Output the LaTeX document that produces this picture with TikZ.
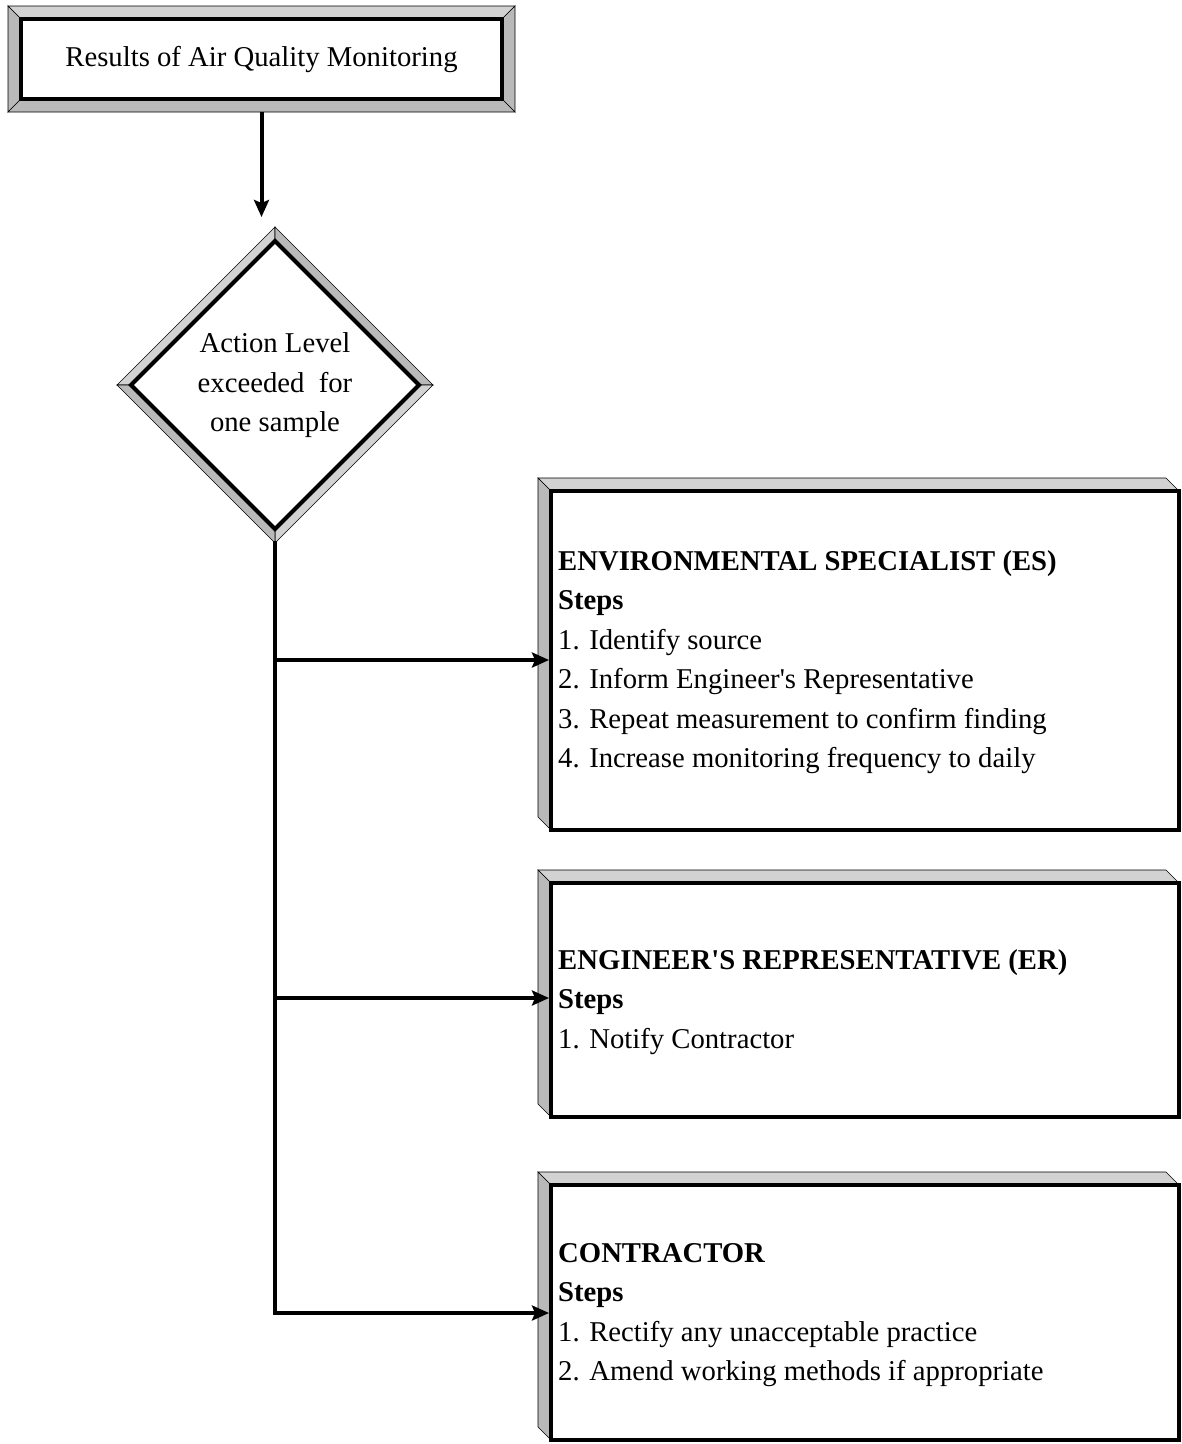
\documentclass[tikz,border=0pt]{standalone}
\usepackage{fontspec}
\setmainfont{Liberation Serif}[Ligatures=TeXOff]
\usetikzlibrary{shapes.geometric,arrows.meta,calc}
\begin{document}
\begin{tikzpicture}[x=1pt,y=-1pt,
  txt/.style={font=\fontsize{28.7}{39.5}\selectfont, inner sep=0pt, anchor=base west},
  ctxt/.style={txt, anchor=base},
  btxt/.style={txt, font=\fontsize{28.7}{39.5}\selectfont\bfseries},
  bevA/.style={fill=gray!35, draw=black, line width=0.6pt},
  bevB/.style={fill=gray!55, draw=black, line width=0.6pt},
  boxin/.style={draw, line width=4pt, fill=white, inner sep=0pt, outer sep=0pt, anchor=north west},
  conn/.style={line width=4pt, -{Stealth[length=17pt,width=15pt,inset=3pt]}},
  link/.style={line width=4pt}]
\useasboundingbox (0,0) rectangle (1182,1444);

% ---------- top box ----------
\filldraw[bevA] (8,6) -- (515,6) -- (502,19) -- (21,19) -- cycle;
\filldraw[bevB] (8,6) -- (21,19) -- (21,99) -- (8,112) -- cycle;
\filldraw[bevB] (515,6) -- (515,112) -- (502,99) -- (502,19) -- cycle;
\filldraw[bevB] (8,112) -- (515,112) -- (502,99) -- (21,99) -- cycle;
\node[boxin, minimum width=481pt, minimum height=80pt] (res) at (21,19) {};
\node[ctxt] (restxt) at (261.5,66) {Results of Air Quality Monitoring};

% ---------- diamond ----------
\filldraw[bevA] (117,385) -- (275,227) -- (275,241) -- (131,385) -- cycle;
\filldraw[bevB] (275,227) -- (433,385) -- (419,385) -- (275,241) -- cycle;
\filldraw[bevA] (433,385) -- (275,543) -- (275,529) -- (419,385) -- cycle;
\filldraw[bevB] (275,543) -- (117,385) -- (131,385) -- (275,529) -- cycle;
\node[diamond, aspect=1, draw, line width=4pt, fill=white, inner sep=0pt, outer sep=0pt,
      minimum width=288pt, minimum height=288pt] (dia) at (275,385) {};
\node[ctxt] (dia1) at (275,352) {Action Level};
\node[ctxt] (dia2) at (275,392) {exceeded\ \ for};
\node[ctxt] (dia3) at (275,431) {one sample};

% ---------- box ES ----------
\filldraw[bevA] (538,478) -- (1166,478) -- (1179,491) -- (551,491) -- cycle;
\filldraw[bevB] (538,478) -- (551,491) -- (551,830) -- (538,817) -- cycle;
\node[boxin, minimum width=628pt, minimum height=339pt] (es) at (551,491) {};
\node[btxt] (es1) at (558,570) {ENVIRONMENTAL SPECIALIST (ES)};
\node[btxt] (es2) at (558,609.5) {Steps};
\node[txt] (es3) at (558,649) {1. Identify source};
\node[txt] (es4) at (558,688.5) {2. Inform Engineer's Representative};
\node[txt] (es5) at (558,728) {3. Repeat measurement to confirm finding};
\node[txt] (es6) at (558,767.5) {4. Increase monitoring frequency to daily};

% ---------- box ER ----------
\filldraw[bevA] (538,870) -- (1166,870) -- (1179,883) -- (551,883) -- cycle;
\filldraw[bevB] (538,870) -- (551,883) -- (551,1117) -- (538,1104) -- cycle;
\node[boxin, minimum width=628pt, minimum height=234pt] (er) at (551,883) {};
\node[btxt] (er1) at (558,969) {ENGINEER'S REPRESENTATIVE (ER)};
\node[btxt] (er2) at (558,1008.5) {Steps};
\node[txt] (er3) at (558,1048) {1. Notify Contractor};

% ---------- box Contractor ----------
\filldraw[bevA] (538,1172) -- (1166,1172) -- (1179,1185) -- (551,1185) -- cycle;
\filldraw[bevB] (538,1172) -- (551,1185) -- (551,1440) -- (538,1427) -- cycle;
\node[boxin, minimum width=628pt, minimum height=255pt] (con) at (551,1185) {};
\node[btxt] (con1) at (558,1262) {CONTRACTOR};
\node[btxt] (con2) at (558,1301.5) {Steps};
\node[txt] (con3) at (558,1341) {1. Rectify any unacceptable practice};
\node[txt] (con4) at (558,1380.5) {2. Amend working methods if appropriate};

% ---------- connectors ----------
\coordinate (a1) at (261.5,217);
\coordinate (j1) at (275,660);
\coordinate (j2) at (275,998);
\coordinate (j3) at (275,1313);
\draw[conn] ($(res.south)+(0,13)$) -- (a1);
\draw[conn, shorten >=2pt] ($(dia.south)+(0,12)$) -- (j3) -- (j3 -| con.west);
\draw[conn, shorten >=2pt] (j1) -- (j1 -| es.west);
\draw[conn, shorten >=2pt] (j2) -- (j2 -| er.west);
\end{tikzpicture}
\end{document}
